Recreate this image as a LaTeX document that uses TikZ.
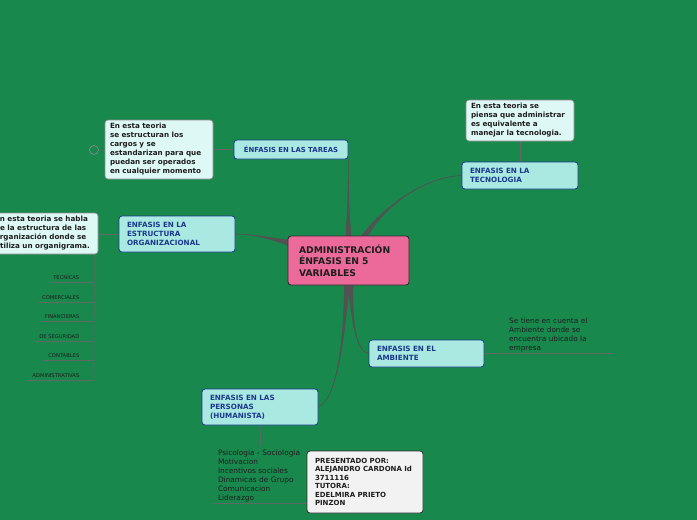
\documentclass[tikz,border=0pt]{standalone}
\usepackage{fontspec}
\setmainfont{DejaVu Sans}
\usetikzlibrary{calc}
\definecolor{bgc}{RGB}{24,136,76}
\definecolor{cyanfill}{RGB}{170,232,226}
\definecolor{bluebd}{RGB}{28,58,140}
\definecolor{bluetx}{RGB}{26,58,140}
\definecolor{notefill}{RGB}{222,248,246}
\definecolor{notebd}{RGB}{140,140,140}
\definecolor{pinkfill}{RGB}{236,106,154}
\definecolor{darkbd}{RGB}{50,45,50}
\definecolor{connc}{RGB}{82,82,82}
\definecolor{thinc}{RGB}{94,106,98}
\definecolor{txt}{RGB}{30,30,30}
\definecolor{greyfill}{RGB}{242,242,242}
\pgfdeclarelayer{back}
\pgfsetlayers{back,main}
\begin{document}
\begin{tikzpicture}[x=1pt,y=-1pt,
  topic/.style={draw=bluebd, line width=0.8pt, fill=cyanfill, rounded corners=3pt,
    text=bluetx, font=\bfseries\fontsize{7.2}{9}\selectfont, align=left,
    inner xsep=8pt, inner ysep=0pt},
  note/.style={draw=notebd, line width=0.6pt, fill=notefill, rounded corners=3pt,
    text=txt, font=\bfseries\fontsize{7.2}{9}\selectfont, align=left,
    inner xsep=5pt, inner ysep=0pt, text width=98pt},
  lbl/.style={inner sep=0pt, text=txt, font=\fontsize{5.2}{6}\selectfont},
  plain/.style={inner sep=0pt, text=txt, font=\fontsize{7.3}{9}\selectfont, align=left},
  conn/.style={fill=connc, draw=connc, line width=0.6pt, line join=round},
  thinline/.style={draw=thinc, line width=0.7pt}]
\useasboundingbox (0,0) rectangle (697,520);
\clip (0,0) rectangle (697,520);

% central node
\node[draw=darkbd, line width=0.9pt, fill=pinkfill, rounded corners=3pt, text=txt,
  font=\bfseries\fontsize{9.2}{11.5}\selectfont, align=left, inner xsep=11pt, inner ysep=0pt,
  text width=99pt, minimum height=49pt] (c) at (348.5,260.5)
  {ADMINISTRACIÓN\\ÉNFASIS EN 5\\VARIABLES};

% topics
\node[topic, align=center, inner xsep=3pt, text width=108pt, minimum height=19pt,
  font=\bfseries\fontsize{6.9}{9}\selectfont] (t) at (291,149.5) {ÉNFASIS EN LAS TAREAS};
\node[topic, text width=100pt, minimum height=27pt] (te) at (520,175.5) {ENFASIS EN LA\\TECNOLOGIA};
\node[topic, text width=100pt, minimum height=36pt] (es) at (177,234) {ENFASIS EN LA\\ESTRUCTURA\\ORGANIZACIONAL};
\node[topic, text width=99pt, minimum height=27pt] (a) at (426.5,353.5) {ENFASIS EN EL\\AMBIENTE};
\node[topic, text width=100pt, minimum height=36pt] (p) at (260,407) {ENFASIS EN LAS\\PERSONAS\\(HUMANISTA)};

% notes
\node[note, minimum height=59pt] (tn) at (159,149.5)
  {En esta teoria\\se estructuran los\\cargos y se\\estandarizan para que\\puedan ser operados\\en cualquier momento};
\node[note, minimum height=41pt] (ten) at (520,120.5)
  {En esta teoria se\\piensa que administrar\\es equivalente a\\manejar la tecnologia.};
\node[note, minimum height=41pt] (esn) at (44,233.5)
  {En esta teoria se habla\\de la estructura de las\\organización donde se\\utiliza un organigrama.};
\node[draw=darkbd, line width=0.8pt, fill=greyfill, rounded corners=3pt, text=txt,
  font=\bfseries\fontsize{7}{8.5}\selectfont, align=left, inner xsep=8pt, inner ysep=0pt,
  text width=100pt, minimum height=62pt] (pr) at (365,482)
  {PRESENTADO POR:\\ALEJANDRO CARDONA Id\\3711116\\TUTORA:\\EDELMIRA PRIETO\\PINZON};

% small collapse circle
\node[circle, draw=notebd, line width=0.6pt, minimum size=9pt, inner sep=0pt] (cir) at (94,150) {};

% ambiente text and personas list
\node[plain, anchor=north west, text width=104pt] (amt) at (509,318)
  {Se tiene en cuenta el\\Ambiente donde se\\encuentra ubicado la\\empresa};
\coordinate (ae) at (613,353.5);
\node[plain, anchor=north, text width=86pt, font=\fontsize{7.4}{9}\selectfont] (pl) at (261,450)
  {Psicologia - Sociologia\\Motivacion\\Incentivos sociales\\Dinamicas de Grupo\\Comunicacion\\Liderazgo};

% structure labels
\node[lbl, anchor=base east] (l1) at (79.5,279) {TECNICAS};
\node[lbl, anchor=base east] (l2) at (79.5,299) {COMERCIALES};
\node[lbl, anchor=base east] (l3) at (79.5,318) {FINANCIERAS};
\node[lbl, anchor=base east] (l4) at (79.5,338) {DE SEGURIDAD};
\node[lbl, anchor=base east] (l5) at (79.5,357.3) {CONTABLES};
\node[lbl, anchor=base east] (l6) at (79.5,377.3) {ADMINISTRATIVAS};
\coordinate (v0) at ($(esn.south east)+(-4,0)$);
\coordinate (b1) at (94,282.7);
\coordinate (b2) at (94,302.3);
\coordinate (b3) at (94,321.7);
\coordinate (b4) at (94,341.3);
\coordinate (b5) at (94,360.7);
\coordinate (b6) at (94,380.7);

\begin{pgfonlayer}{back}
\fill[bgc] (0,0) rectangle (697,520);
% tapered connectors from centre
\filldraw[conn] ($(c.north)+(-2.5,0)$) .. controls (348,205) and (348.5,175) .. (t.south east)
  .. controls (348.5,175) and (348,205) .. ($(c.north)+(2.5,0)$) -- cycle;
\filldraw[conn] ($(c.north)+(13.5,0)$) .. controls (385,205) and (425,177) .. (te.west)
  .. controls (425,177) and (385,205) .. ($(c.north)+(19.5,0)$) -- cycle;
\filldraw[conn] ($(c.west)+(0,-15.5)$) .. controls (265,237) and (250,234) .. (es.east)
  .. controls (250,234) and (265,237) .. ($(c.west)+(0,-20.5)$) -- cycle;
\filldraw[conn] ($(c.south)+(-0.5,0)$) .. controls (352,320) and (356,352) .. (a.west)
  .. controls (356,352) and (352,320) .. ($(c.south)+(4.5,0)$) -- cycle;
\filldraw[conn] ($(c.south)+(-4,0)$) .. controls (344,335) and (338,398) .. (p.east)
  .. controls (338,398) and (344,335) .. ($(c.south)+(1,0)$) -- cycle;
% thin connectors
\draw[thinline] (tn) -- (t);
\draw[thinline] (cir) -- (tn);
\draw[thinline] (ten) -- (te);
\draw[thinline] (esn.east |- es.west) -- (es.west);
\draw[thinline] (a.east) -- (ae);
\draw[thinline, shorten >=5pt] (p) -- (pl);
\coordinate (ul) at ($(pl.south west)+(-5,1)$);
\draw[thinline] (ul) -- (ul -| pr.west);
\draw[thinline] (v0) -- (b6);
\foreach \i in {1,...,6}{
  \draw[thinline] (b\i) -- ($(b\i -| l\i.west)+(-4,0)$);
}
\end{pgfonlayer}
\end{tikzpicture}
\end{document}
